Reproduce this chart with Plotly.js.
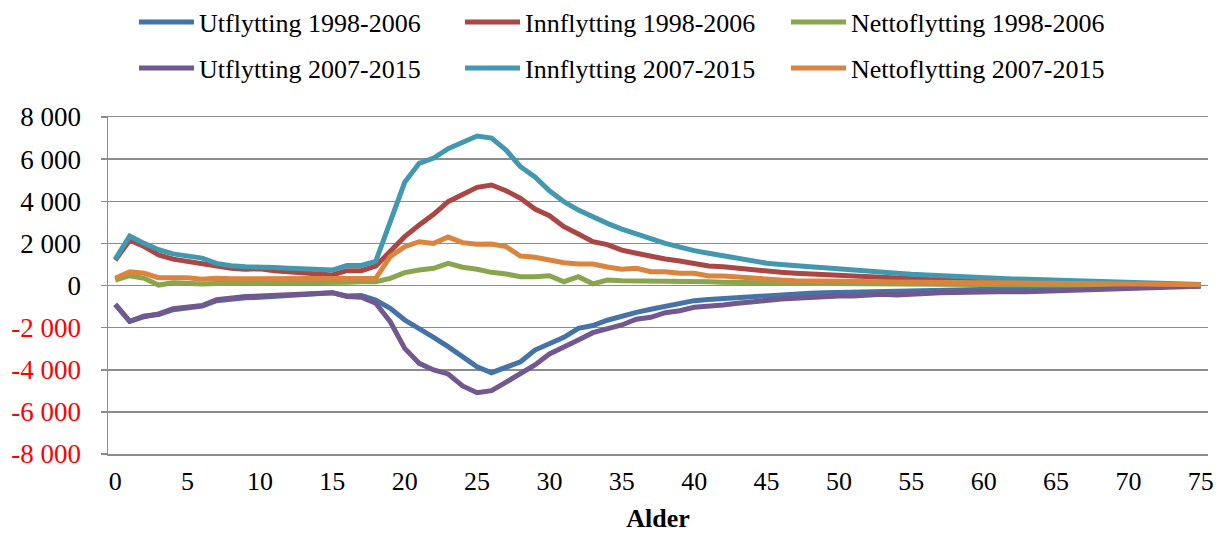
<!DOCTYPE html>
<html><head><meta charset="utf-8">
<script src="https://cdn.plot.ly/plotly-3.0.1.min.js"></script>
<style>html,body{margin:0;padding:0;background:#fff}#chart{width:1219px;height:533px}</style>
</head><body><div id="chart"></div>
<script>
const ages = [0,1,2,3,4,5,6,7,8,9,10,11,12,13,14,15,16,17,18,19,20,21,22,23,24,25,26,27,28,29,30,31,32,33,34,35,36,37,38,39,40,41,42,43,44,45,46,47,48,49,50,51,52,53,54,55,56,57,58,59,60,61,62,63,64,65,66,67,68,69,70,71,72,73,74,75];

const utflytting1998 = [-900,-1700,-1450,-1380,-1150,-1050,-980,-720,-640,-580,-560,-520,-450,-420,-380,-350,-500,-480,-690,-1085,-1640,-2030,-2460,-2905,-3380,-3855,-4140,-3885,-3620,-3065,-2745,-2460,-2030,-1900,-1650,-1450,-1275,-1130,-975,-815,-720,-660,-610,-560,-530,-500,-450,-420,-370,-340,-325,-300,-280,-260,-240,-220,-200,-190,-170,-160,-150,-140,-130,-120,-110,-100,-90,-80,-75,-70,-60,-50,-40,-35,-30,-20];
const innflytting1998 = [1200,2150,1850,1450,1250,1130,1020,890,815,770,800,705,655,610,545,500,705,705,925,1600,2320,2870,3380,3980,4300,4660,4770,4500,4140,3630,3315,2790,2445,2080,1940,1680,1530,1370,1260,1165,1020,925,890,815,770,690,625,580,545,500,465,420,420,370,340,300,270,250,230,200,180,170,160,150,140,130,120,110,100,90,80,70,60,50,40,30];
const netto1998 = [260,465,340,20,135,100,70,100,100,100,100,130,130,130,130,130,150,180,180,340,610,735,815,1050,865,770,625,545,420,420,465,180,420,80,260,230,230,215,230,215,215,180,150,150,130,120,110,100,100,90,90,80,80,70,70,60,60,50,50,50,40,40,40,30,30,30,30,20,20,20,20,10,10,10,10,10];
const utflytting2007 = [-900,-1700,-1480,-1350,-1100,-1000,-950,-680,-600,-520,-500,-470,-400,-390,-350,-340,-520,-560,-845,-1720,-2985,-3695,-4010,-4200,-4770,-5090,-4995,-4565,-4170,-3775,-3250,-2935,-2590,-2240,-2080,-1875,-1600,-1510,-1290,-1195,-1035,-1005,-925,-845,-770,-690,-640,-610,-560,-530,-500,-500,-450,-420,-450,-400,-370,-350,-330,-310,-295,-290,-290,-300,-270,-245,-230,-230,-200,-170,-140,-120,-100,-80,-60,-30];
const innflytting2007 = [1250,2350,2000,1700,1500,1400,1300,1050,940,890,890,850,815,790,770,735,950,950,1150,2950,4900,5800,6050,6500,6830,7100,7000,6430,5640,5150,4500,3980,3580,3240,2950,2680,2420,2220,2000,1810,1655,1530,1415,1300,1170,1060,1000,970,890,845,785,705,690,640,580,530,490,450,420,390,360,330,310,300,280,260,250,240,210,190,170,150,130,100,80,50];
const netto2007 = [340,650,580,370,370,370,300,340,320,320,340,330,370,320,340,320,370,340,340,1370,1845,2080,2000,2300,2035,1955,1970,1845,1400,1340,1210,1085,1020,1020,880,770,815,655,655,580,580,450,450,390,340,310,260,230,230,220,210,200,190,180,170,160,150,150,140,130,130,120,110,110,100,100,90,90,80,80,70,60,60,50,40,30];

const seriesNames = ["Utflytting 1998-2006","Innflytting 1998-2006","Nettoflytting 1998-2006","Utflytting 2007-2015","Innflytting 2007-2015","Nettoflytting 2007-2015"];
const seriesColors = ["#4572A7","#AA4643","#89A54E","#71588F","#4198AF","#DB843D"];

const xTickVals = [0,5,10,15,20,25,30,35,40,45,50,55,60,65,70,75];
const xTickLabels = ["0","5","10","15","20","25","30","35","40","45","50","55","60","65","70","75"];
const yTickVals = [-8000,-6000,-4000,-2000,0,2000,4000,6000,8000];
const yTickLabels = ["-8 000","-6 000","-4 000","-2 000","0","2 000","4 000","6 000","8 000"];

const seriesValues = [utflytting1998, innflytting1998, netto1998, utflytting2007, innflytting2007, netto2007];
const traces = seriesValues.map((vals, k) => ({
  type: 'scatter', mode: 'lines', x: ages, y: vals, name: seriesNames[k],
  line: {color: seriesColors[k], width: 5},
  legend: k < 3 ? 'legend' : 'legend2',
  hoverinfo: 'skip'
}));

const minorTicks = [];
for (let t = -0.5; t <= 75.5; t += 1) minorTicks.push(t);

const axisGray = '#8c8c8c';
const fontFam = 'Liberation Serif, Times New Roman, serif';
const legendBase = {
  orientation: 'h', xref: 'container', yref: 'container', xanchor: 'left', yanchor: 'middle',
  entrywidth: 256, entrywidthmode: 'pixels', itemwidth: 55,
  font: {family: fontFam, size: 26, color: '#000'}, bgcolor: 'rgba(0,0,0,0)', borderwidth: 0
};

const layout = {
  width: 1219, height: 533,
  margin: {l: 108, r: 11, t: 117, b: 79, pad: 0},
  paper_bgcolor: '#ffffff', plot_bgcolor: '#ffffff',
  font: {family: fontFam, size: 26, color: '#000'},
  showlegend: true,
  legend: Object.assign({}, legendBase, {x: 134/1219, y: 1 - 22/533}),
  legend2: Object.assign({}, legendBase, {x: 134/1219, y: 1 - 68/533}),
  xaxis: {
    range: [-0.5, 75.5], tickmode: 'array', tickvals: xTickVals, ticktext: xTickLabels,
    showgrid: false, zeroline: false, showline: true, mirror: true, linecolor: axisGray, linewidth: 1.5,
    ticks: 'outside', ticklen: 3, tickcolor: 'rgba(0,0,0,0)',
    tickfont: {family: fontFam, size: 26, color: '#000'},
    title: {text: '<b>Alder</b>', font: {family: fontFam, size: 26, color: '#000'}, standoff: 18},
    fixedrange: true
  },
  xaxis2: {
    overlaying: 'x', anchor: 'free', position: 0.5, range: [-0.5, 75.5],
    tickmode: 'array', tickvals: minorTicks, showticklabels: false,
    ticks: 'outside', ticklen: 6, tickwidth: 1.5, tickcolor: axisGray,
    showline: true, linecolor: axisGray, linewidth: 1.5,
    showgrid: false, zeroline: false, fixedrange: true
  },
  yaxis: {
    range: [-8000, 8000], tickmode: 'array', tickvals: yTickVals,
    ticktext: yTickLabels.map((t, i) => yTickVals[i] < 0 ? '<span style="color:#ff0000">' + t + '</span>' : t),
    showgrid: true, gridcolor: axisGray, gridwidth: 1.5, zeroline: false,
    showline: true, linecolor: axisGray, linewidth: 1.5,
    ticks: 'outside', ticklen: 6, tickwidth: 1.5, tickcolor: axisGray,
    ticklabelstandoff: 14,
    tickfont: {family: fontFam, size: 27, color: '#000'},
    fixedrange: true
  }
};

Plotly.newPlot('chart', traces, layout, {displayModeBar: false, staticPlot: true});
</script>
</body></html>
